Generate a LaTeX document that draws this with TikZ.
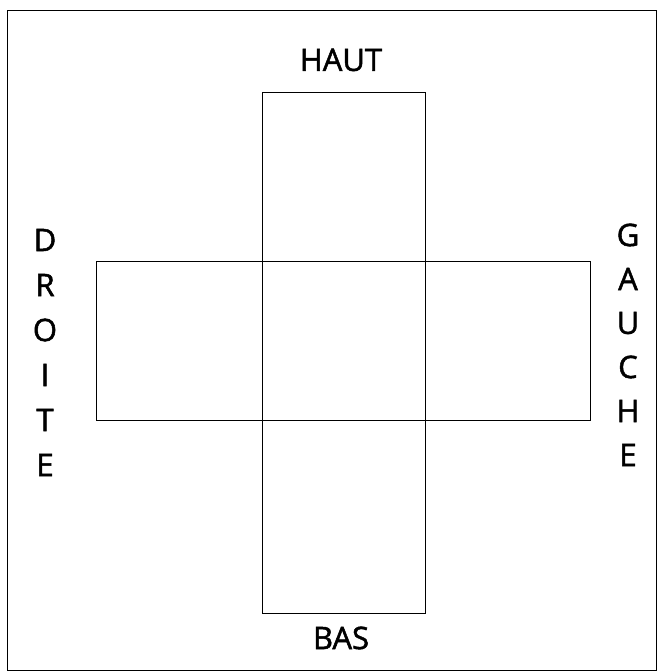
\documentclass[tikz,border=0pt]{standalone}
\usepackage{fontspec}
\newfontfamily\lblfont{Open Sans}[FakeBold=1.6]
\usepackage{tikz}
\usetikzlibrary{positioning}

\begin{document}
\begin{tikzpicture}[x=1pt,y=1pt,line width=0.9pt,
  lbl/.style={font=\lblfont\fontsize{31}{34}\selectfont,inner sep=0pt}]
  \useasboundingbox (0,0) rectangle (660,672);
  \draw (7,2) rectangle (656,662);
  % cross
  \draw (262,59) rectangle (425,580);
  \draw (96,252) rectangle (590,411);
  \node[lbl] (haut) at (341,612) {HAUT};
  \node[lbl] (bas) at (341,34) {BAS};
  \foreach \c [count=\i] in {D,R,O,I,T,E}
    \node[lbl] (dr\i) at (45,{432-45*(\i-1)}) {\c};
  \foreach \c [count=\i] in {G,A,U,C,H,E}
    \node[lbl] (ga\i) at (628,{437-44*(\i-1)}) {\c};
\end{tikzpicture}
\end{document}
